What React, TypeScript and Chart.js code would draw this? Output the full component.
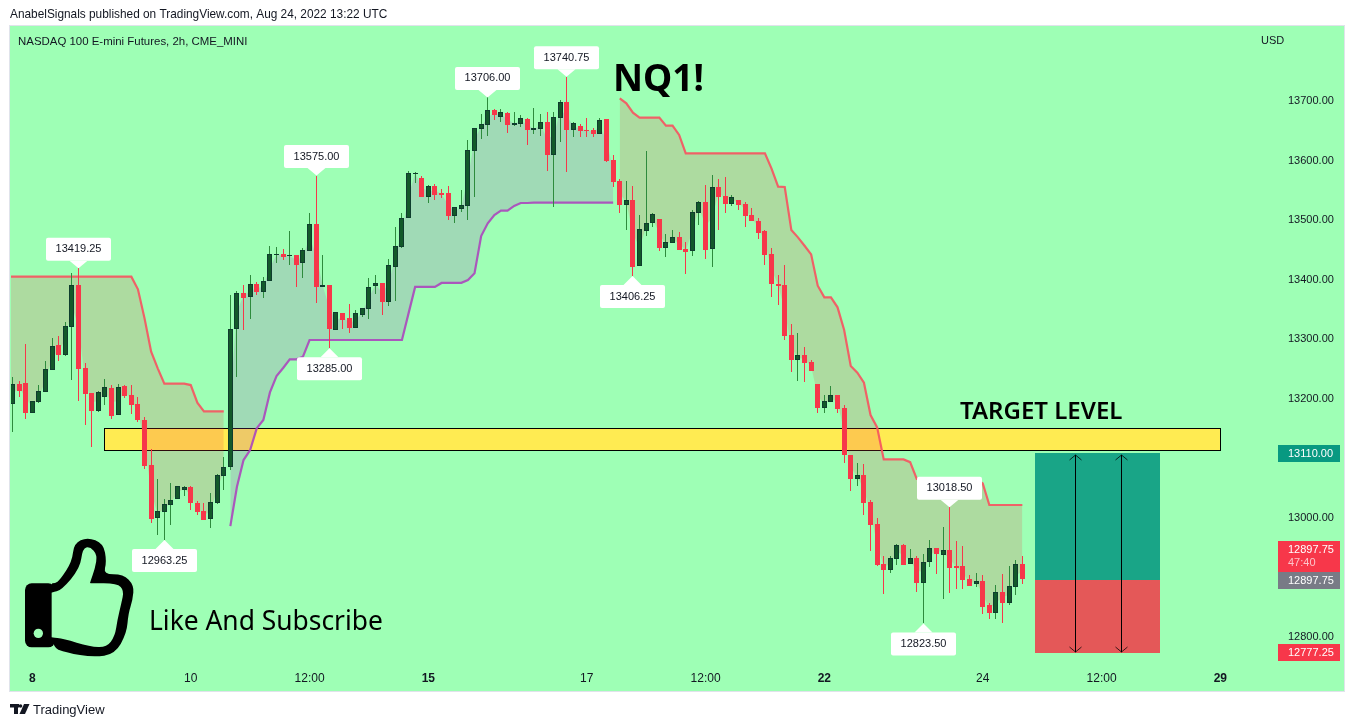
import { useEffect, useRef } from "react";
import { Chart, registerables } from "chart.js";

Chart.register(...registerables);

const opens = [
  13191, 13225, 13226.2, 13175.9, 13195.5, 13212.2, 13249.2, 13290.5, 13274.3, 13321.3,
  13391.2, 13252, 13210, 13180.4, 13203.8, 13218.4, 13172.5, 13221.8, 13206.6, 13191.5,
  13164.7, 13089.2, 13000.8, 13010.9, 13022.6, 13031.6, 13047.8, 13052.3, 13025.4, 13012,
  12998, 13026, 13071.3, 13086.4, 13316.8, 13377.2, 13370.5, 13392.3, 13378.9, 13397.4,
  13442.1, 13443.2, 13439.3, 13441.5, 13427.6, 13448.9, 13493.6, 13388.5, 13390.7, 13316.3,
  13343.7, 13335.9, 13319.7, 13341.5, 13351.6, 13390.2, 13394.1, 13363.3, 13422, 13455.6,
  13503.1, 13578.1, 13570.8, 13539.5, 13557.4, 13545.1, 13545.7, 13507.6, 13519.4, 13524.4,
  13616.7, 13653.6, 13660.3, 13684.9, 13673.8, 13679.4, 13660.3, 13662, 13669.3, 13651.9,
  13653.6, 13664.8, 13610, 13672.1, 13698.4, 13651.9, 13657.5, 13651.4, 13651.4, 13645.2,
  13669.3, 13601, 13565.3, 13526.1, 13533.4, 13423.8, 13482.5, 13494.8, 13501.5, 13454,
  13462.3, 13471.8, 13451.2, 13448.9, 13512.7, 13530.6, 13452.3, 13555.2, 13540.6, 13527.8,
  13533.4, 13527.2, 13508.2, 13498.7, 13482.4, 13442.7, 13392.9, 13391.2, 13307.3, 13265.4,
  13273.8, 13262, 13225.1, 13184.9, 13195.5, 13206.7, 13184.9, 13106, 13065.7, 13072.4,
  13027.2, 12990.3, 12923.1, 12913.6, 12932, 12954.5, 12923.7, 12933.2, 12891.8, 12927,
  12950, 12938.8, 12946.6, 12919.2, 12919.8, 12897.4, 12890.1, 12894.6, 12854.3, 12841.5,
  12875.6, 12858.3, 12885.1, 12923.1,
];
const closes = [
  13224.5, 13213.4, 13177, 13196, 13212.8, 13249.7, 13288.3, 13274.3, 13321.9, 13391.2,
  13250.8, 13208.9, 13180.4, 13211.1, 13219.5, 13172, 13219.5, 13205, 13190.4, 13165.3,
  13088.1, 12999.2, 13011.4, 13023.2, 13029.9, 13054.5, 13051.7, 13025.4, 13010.3, 12997.5,
  13026.5, 13071.9, 13085.3, 13316.8, 13377.2, 13370, 13392.3, 13380, 13397.4, 13442.7,
  13442.7, 13438.8, 13441, 13425.3, 13449.4, 13493, 13388.5, 13390.7, 13316.9, 13345.4,
  13333.1, 13319.7, 13343.7, 13352.1, 13388.5, 13394.1, 13363.3, 13424.3, 13456.2, 13503.1,
  13578.6, 13579.2, 13539.5, 13556.9, 13542.9, 13542.3, 13507.1, 13521.6, 13525, 13617.3,
  13654.2, 13660.9, 13684.4, 13676.6, 13681, 13660.3, 13662.6, 13671, 13651.9, 13654.2,
  13664.3, 13610, 13672.6, 13697.8, 13651.9, 13662.6, 13649.7, 13650.3, 13645.2, 13667.6,
  13599.9, 13564.7, 13526.1, 13533.4, 13421.5, 13484.7, 13494.8, 13509.9, 13454, 13462.9,
  13471.3, 13450.6, 13447.2, 13513.2, 13530, 13450.6, 13555.2, 13539.5, 13527.8, 13538.4,
  13526.1, 13507.6, 13499.3, 13478.6, 13441.6, 13392.9, 13390.1, 13305.7, 13265.4, 13273.2,
  13260.4, 13247, 13184.9, 13196, 13206.1, 13183.2, 13106, 13065.7, 13072.4, 13025.5,
  12989.1, 12922, 12913.6, 12932.6, 12954.5, 12922, 12932.6, 12891.8, 12926, 12949.4,
  12940.5, 12946, 12916.4, 12917, 12896.3, 12886.8, 12894, 12851.6, 12840.9, 12875.6,
  12858.3, 12885.7, 12922.6, 12897.75,
];
const highs = [
  13236.8, 13230.7, 13291.7, 13197.1, 13223.4, 13264.3, 13301.7, 13305.6, 13328.6, 13410.8,
  13419.25, 13259.8, 13210, 13213.4, 13232.9, 13223.4, 13224.5, 13223.4, 13223.4, 13202.7,
  13169.2, 13115.5, 13065.7, 13031.6, 13058.4, 13054.5, 13054, 13054, 13028.8, 13024.9,
  13041.7, 13074.1, 13102, 13374.4, 13381.7, 13391.2, 13408, 13396.8, 13405.2, 13456.7,
  13454.4, 13451, 13481.8, 13441.5, 13452.7, 13511.5, 13575, 13441.6, 13390.7, 13345.4,
  13343.7, 13359.4, 13349.3, 13352.1, 13402.5, 13408, 13394.1, 13434.3, 13489.2, 13511.5,
  13582.6, 13581.4, 13574.2, 13559.1, 13560.8, 13551.8, 13557.4, 13521.6, 13550.7, 13634.6,
  13654.2, 13678.2, 13706, 13686.1, 13686.1, 13682.2, 13681, 13676.6, 13672.1, 13687.7,
  13678.2, 13681, 13682.2, 13701.7, 13740.75, 13665.4, 13661.5, 13671, 13654.2, 13671,
  13669.3, 13609.4, 13568.6, 13565.8, 13557.4, 13508.8, 13616.2, 13511.6, 13501.5, 13476.3,
  13483.6, 13480.2, 13463.5, 13517.2, 13532.3, 13559.1, 13575.9, 13569.2, 13572, 13542.3,
  13533.4, 13531.1, 13520.5, 13503.2, 13483.5, 13452.8, 13408, 13424.8, 13325.8, 13310.1,
  13287.2, 13265.4, 13225.1, 13206.7, 13221.8, 13206.7, 13189.9, 13106, 13092.6, 13090.9,
  13030.5, 13000.3, 12936.6, 12936.6, 12956.1, 12956.7, 12948.3, 12936.6, 12940, 12963.4,
  12950, 12985.2, 13018.5, 12961.7, 12953.3, 12904.7, 12908, 12904.7, 12857.7, 12887.9,
  12906.4, 12919.8, 12929.9, 12936.6,
];
const lows = [
  13145.1, 13203.8, 13167, 13175.9, 13193.8, 13212.2, 13249, 13264.3, 13272, 13231.8,
  13197.1, 13156.3, 13120, 13178.7, 13189.9, 13167, 13172.5, 13202.2, 13174.8, 13161.9,
  13082, 12992.4, 12972.3, 12963.25, 12989.1, 13031.6, 13037.7, 13013.7, 13005.3, 12997.5,
  12983, 13023.8, 13047.2, 13080.8, 13237.4, 13315.7, 13333.6, 13374.4, 13369.4, 13397.4,
  13427.6, 13433.2, 13424.8, 13387.3, 13402.4, 13448.9, 13361.6, 13388.5, 13285, 13316.3,
  13318, 13311.3, 13319.7, 13338.1, 13334.8, 13376.2, 13340.9, 13356.6, 13365, 13453.9,
  13503.1, 13563, 13539.5, 13529.5, 13533.9, 13536.7, 13500.4, 13495.9, 13514.4, 13500.4,
  13539.5, 13636.3, 13641.3, 13668.2, 13664.3, 13646.9, 13658.1, 13655.9, 13626.2, 13644.7,
  13641.3, 13583, 13522.8, 13631.8, 13581.5, 13640.2, 13640.2, 13639.1, 13639.1, 13645.2,
  13598.3, 13556.3, 13512.7, 13483.6, 13406.25, 13423.8, 13473.5, 13488.1, 13448.4, 13438.9,
  13462.3, 13450.6, 13409.8, 13440.5, 13492, 13434.9, 13422.1, 13483.6, 13512.7, 13523.9,
  13517.2, 13489.2, 13499.3, 13468.5, 13424.8, 13371.7, 13357.7, 13299, 13245.3, 13230.2,
  13228.5, 13247, 13176.5, 13176.5, 13195.5, 13176.5, 13092.6, 13045.6, 13054, 13005.3,
  12945.5, 12919.8, 12872.8, 12908.6, 12921.5, 12922, 12923.7, 12876.2, 12823.5, 12918.1,
  12906.4, 12864.4, 12874.5, 12881.2, 12881.2, 12886.8, 12884.6, 12839.2, 12830.9, 12830.9,
  12824.1, 12854.3, 12871.1, 12889.6,
];

// trend bands, first value of each sits on the bar named by its start index
const upperFirstStart = -1;
const upperFirst = [
  13405.2, 13405.2, 13405.2, 13405.2, 13405.2, 13405.2, 13405.2, 13405.2, 13405.2, 13405.2,
  13405.2, 13405.2, 13405.2, 13405.2, 13405.2, 13405.2, 13405.2, 13405.2, 13405.2, 13405.2,
  13384, 13335.3, 13279.4, 13251.4, 13225.7, 13225.7, 13225.7, 13225.7, 13223.4, 13193.8,
  13179.2, 13179.2, 13179.2, 13179.2,
];
const lowerStart = 33;
const lower = [
  12986.8, 13052.8, 13097.6, 13114.4, 13150.7, 13164.7, 13211.1, 13238.5, 13252, 13266.5,
  13266.5, 13271, 13299, 13299, 13299, 13299, 13299, 13299, 13299, 13299,
  13299, 13299, 13299, 13299, 13299, 13299, 13299, 13343.7, 13388, 13388,
  13388, 13388, 13394.7, 13394.7, 13395, 13395, 13399.7, 13410.9, 13473.5, 13494.8,
  13508.8, 13516, 13516, 13523.9, 13528.9, 13528.9, 13529.5, 13529.5, 13529.5, 13529.5,
  13529.5, 13529.5, 13529.5, 13529.5, 13529.5, 13529.5, 13529.5, 13529.5, 13529.5,
];
const upperLastStart = 92;
const upperLast = [
  13704.5, 13696.1, 13680.5, 13672.1, 13672.1, 13672.1, 13672.1, 13658.7, 13658.7, 13643,
  13612.2, 13612.2, 13612.2, 13612.2, 13612.2, 13612.2, 13612.2, 13612.2, 13612.2, 13612.2,
  13612.2, 13612.2, 13612.2, 13586.5, 13556.3, 13555.7, 13483.5, 13471.2, 13457.2, 13442.7,
  13390.1, 13370.5, 13370.5, 13353.8, 13315.7, 13255.3, 13244.1, 13227.4, 13173.1, 13152.4,
  13098.7, 13098.7, 13098.7, 13098.7, 13094, 13066, 13066, 13066, 13066, 13066,
  13066, 13066, 13066, 13066, 13066, 13058.5, 13022.1, 13022.1, 13022.1, 13022.1,
  13022.1, 13022.1,
];

const timeTicks = [3, 27, 45, 63, 87, 105, 123, 147, 165, 183];
const timeLabels = ["8", "10", "12:00", "15", "17", "12:00", "22", "24", "12:00", "29"];
const boldTimeLabels = ["8", "15", "22", "29"];
const priceTicks = [12800, 12900, 13000, 13100, 13200, 13300, 13400, 13500, 13600, 13700];

// callouts: bar index, price, text side
const calloutBars = [10, 23, 46, 48, 72, 84, 94, 138, 142];
const calloutPrices = [13419.25, 12963.25, 13575, 13285, 13706, 13740.75, 13406.25, 12823.5, 13018.5];
const calloutAbove = [true, false, true, false, true, true, false, false, true];

const targetZone = [13151, 13114];
const targetBars = [14, 183];
const positionBars = [154.9, 173.9];
const positionLevels = [13109.5, 12896, 12774.5];
const arrowBars = [161, 168];

const FONT = '"Liberation Sans", Arial, sans-serif';
const BG = "#9effb5";
const RED = "#f7374a";
const TEXT = "#131722";

const xy = (values: number[], start: number) => values.map((y, i) => ({ x: start + i, y }));

const midline = [
  { x: -1, y: 13208 },
  ...opens.map((o, i) => ({ x: i, y: (o + closes[i]) / 2 })),
];

function smooth(ctx: CanvasRenderingContext2D, pts: number[][]) {
  // closed curve through the midpoints of a point list
  const n = pts.length;
  const mid = (a: number[], b: number[]) => [(a[0] + b[0]) / 2, (a[1] + b[1]) / 2];
  const start = mid(pts[n - 1], pts[0]);
  ctx.moveTo(start[0], start[1]);
  pts.forEach((p, i) => {
    const m = mid(p, pts[(i + 1) % n]);
    ctx.quadraticCurveTo(p[0], p[1], m[0], m[1]);
  });
  ctx.closePath();
}

function drawThumb(ctx: CanvasRenderingContext2D) {
  ctx.save();
  ctx.translate(0, 520);
  ctx.scale(1 / 3, 1 / 3);
  ctx.fillStyle = "#000";
  ctx.beginPath();
  ctx.roundRect(75, 190, 90, 192, 20);
  ctx.fill();
  ctx.beginPath();
  smooth(ctx, [
    [150, 190], [165, 190], [180, 180], [216, 125], [222, 70], [262, 52], [310, 70], [320, 125], [310, 163],
    [370, 163], [402, 195], [398, 240], [385, 280], [380, 340], [345, 402], [280, 412],
    [200, 398], [150, 380],
  ]);
  ctx.fill();
  ctx.fillStyle = BG;
  ctx.beginPath();
  smooth(ctx, [
    [155, 218], [155, 218], [185, 210], [240, 145], [248, 85], [270, 80], [292, 105], [285, 145], [270, 188], [270, 190],
    [352, 190], [372, 212], [364, 250], [352, 300], [345, 348], [320, 382], [270, 380],
    [190, 356], [155, 352], [155, 352],
  ]);
  ctx.fill();
  ctx.beginPath();
  ctx.arc(115, 340, 14, 0, Math.PI * 2);
  ctx.fill();
  ctx.restore();
}

function drawLogo(ctx: CanvasRenderingContext2D) {
  ctx.save();
  ctx.fillStyle = "#131722";
  ctx.fillRect(10, 704, 9, 3.5);
  ctx.fillRect(14, 704, 4, 10);
  ctx.beginPath();
  ctx.arc(20.5, 706, 1.8, 0, Math.PI * 2);
  ctx.fill();
  ctx.beginPath();
  ctx.moveTo(24, 704);
  ctx.lineTo(29.5, 704);
  ctx.lineTo(25, 714);
  ctx.lineTo(19.5, 714);
  ctx.closePath();
  ctx.fill();
  ctx.restore();
}

const backdropPlugin = {
  id: "backdrop",
  // pixel-snap the candles the way the original chart does
  afterDatasetsUpdate(chart: any) {
    [0, 1].forEach((index) => {
      chart.getDatasetMeta(index).data.forEach((bar: any) => {
        bar.x = Math.floor(bar.x) + 0.5;
        const top = Math.round(Math.min(bar.y, bar.base));
        const bottom = Math.max(Math.round(Math.max(bar.y, bar.base)), top + 1);
        bar.y = top;
        bar.base = bottom;
        bar.height = bottom - top;
      });
    });
  },
  beforeDraw(chart: any) {
    const { ctx } = chart;
    ctx.save();
    ctx.fillStyle = "#fff";
    ctx.fillRect(0, 0, 1354, 727);
    ctx.fillStyle = BG;
    ctx.fillRect(10, 26, 1334, 665);
    ctx.strokeStyle = "#e0e3eb";
    ctx.lineWidth = 1;
    ctx.strokeRect(9.5, 25.5, 1335, 666);
    ctx.restore();
  },
  beforeDatasetsDraw(chart: any) {
    const { ctx, scales } = chart;
    const { x, y } = scales;
    const left = Math.floor(x.getPixelForValue(targetBars[0])) + 0.5;
    const right = Math.floor(x.getPixelForValue(targetBars[1])) + 0.5;
    const top = Math.round(y.getPixelForValue(targetZone[0])) + 0.5;
    const bottom = Math.round(y.getPixelForValue(targetZone[1])) + 0.5;
    ctx.save();
    ctx.fillStyle = "#ffeb52";
    ctx.fillRect(left, top, right - left, bottom - top);
    ctx.strokeStyle = "#000";
    ctx.lineWidth = 1;
    ctx.strokeRect(left, top, right - left, bottom - top);
    ctx.restore();
  },
};

function drawArrow(ctx: CanvasRenderingContext2D, px: number, top: number, bottom: number) {
  ctx.strokeStyle = "#000";
  ctx.lineWidth = 1;
  ctx.beginPath();
  ctx.moveTo(px, top);
  ctx.lineTo(px, bottom);
  ctx.stroke();
  ctx.strokeStyle = "rgba(0,0,0,0.75)";
  ctx.beginPath();
  ctx.moveTo(px - 6, top + 5);
  ctx.lineTo(px, top);
  ctx.lineTo(px + 6, top + 5);
  ctx.moveTo(px - 6, bottom - 5);
  ctx.lineTo(px, bottom);
  ctx.lineTo(px + 6, bottom - 5);
  ctx.stroke();
}

function drawPriceTag(ctx: CanvasRenderingContext2D, top: number, h: number, color: string, text: string) {
  ctx.fillStyle = color;
  ctx.fillRect(1278, top, 62, h);
  ctx.fillStyle = "#fff";
  ctx.textAlign = "left";
  ctx.textBaseline = "middle";
  ctx.fillText(text, 1288, top + 8.5);
}

const overlayPlugin = {
  id: "overlay",
  afterDatasetsDraw(chart: any) {
    const { ctx, scales } = chart;
    const { x, y } = scales;
    ctx.save();

    // long position box
    const bl = Math.round(x.getPixelForValue(positionBars[0]));
    const br = Math.round(x.getPixelForValue(positionBars[1]));
    const y0 = Math.round(y.getPixelForValue(positionLevels[0]));
    const y1 = Math.round(y.getPixelForValue(positionLevels[1]));
    const y2 = Math.round(y.getPixelForValue(positionLevels[2]));
    ctx.fillStyle = "#19a587";
    ctx.fillRect(bl, y0, br - bl, y1 - y0);
    ctx.fillStyle = "#e45858";
    ctx.fillRect(bl, y1, br - bl, y2 - y1);
    arrowBars.forEach((b) => drawArrow(ctx, Math.floor(x.getPixelForValue(b)) + 0.5, y0 + 2, y2 - 1));

    // high / low callouts
    ctx.font = `11px ${FONT}`;
    ctx.textAlign = "center";
    ctx.textBaseline = "middle";
    calloutBars.forEach((bar, i) => {
      const px = Math.floor(x.getPixelForValue(bar)) + 0.5;
      const py = y.getPixelForValue(calloutPrices[i]);
      const dir = calloutAbove[i] ? -1 : 1;
      const edge = py + dir * (calloutAbove[i] ? 7.5 : 9);
      const top = calloutAbove[i] ? edge - 23 : edge;
      ctx.fillStyle = "#fff";
      ctx.beginPath();
      ctx.roundRect(px - 32.5, top, 65, 23, 2);
      ctx.fill();
      ctx.beginPath();
      ctx.moveTo(px, py);
      ctx.lineTo(px + 9, edge);
      ctx.lineTo(px - 9, edge);
      ctx.closePath();
      ctx.fill();
      ctx.fillStyle = TEXT;
      ctx.fillText(calloutPrices[i].toFixed(2), px, top + 11.5);
    });

    // drawings
    ctx.fillStyle = "#000";
    ctx.textAlign = "left";
    ctx.font = `bold 37px "Noto Sans", sans-serif`;
    ctx.fillText("NQ1!", 613, 80);
    ctx.font = `600 24px "Noto Sans", sans-serif`;
    ctx.fillText("TARGET LEVEL", 960, 412);
    ctx.font = `26.4px "Noto Sans", sans-serif`;
    ctx.fillText("Like And Subscribe", 149, 622);
    drawThumb(ctx);

    // right side tags
    ctx.font = `11px ${FONT}`;
    drawPriceTag(ctx, 445, 17, "#089981", "13110.00");
    drawPriceTag(ctx, 541, 31, RED, "12897.75");
    ctx.fillStyle = "rgba(255,255,255,0.7)";
    ctx.fillText("47:40", 1288, 563);
    drawPriceTag(ctx, 572, 17, "#787b86", "12897.75");
    drawPriceTag(ctx, 644, 17, RED, "12777.25");

    // header and footer
    ctx.fillStyle = TEXT;
    ctx.textBaseline = "middle";
    ctx.font = `11.85px ${FONT}`;
    ctx.fillText("AnabelSignals published on TradingView.com, Aug 24, 2022 13:22 UTC", 10, 15);
    ctx.font = `11.45px ${FONT}`;
    ctx.fillText("NASDAQ 100 E-mini Futures, 2h, CME_MINI", 18, 42);
    ctx.font = `11px ${FONT}`;
    ctx.fillText("USD", 1261, 41);
    ctx.font = `13px ${FONT}`;
    ctx.fillText("TradingView", 33, 710);
    drawLogo(ctx);
    ctx.restore();
  },
};

export default function App() {
  const canvasRef = useRef<HTMLCanvasElement>(null);

  useEffect(() => {
    if (!canvasRef.current) return;
    const bandStyle = (color: string, fillColor: string) => ({
      type: "line" as const,
      borderColor: color,
      borderWidth: 2.2,
      pointRadius: 0,
      tension: 0,
      fill: { target: 2 },
      backgroundColor: fillColor,
      order: 5,
    });
    const chart = new Chart(canvasRef.current, {
      type: "bar",
      data: {
        datasets: [
          {
            label: "Body",
            data: opens.map((o, i) => ({ x: i, y: [o, closes[i]] })) as any,
            backgroundColor: opens.map((o, i) => (closes[i] >= o ? "#13592a" : RED)),
            borderColor: opens.map((o, i) => (closes[i] >= o ? "#0f3d2e" : RED)),
            borderWidth: 1,
            borderSkipped: false,
            inflateAmount: 0,
            barThickness: 5,
            grouped: false,
            order: 1,
          },
          {
            label: "Wick",
            data: lows.map((l, i) => ({ x: i, y: [l, highs[i]] })) as any,
            backgroundColor: opens.map((o, i) => (closes[i] >= o ? "#2e8b3d" : RED)),
            inflateAmount: 0,
            barThickness: 1,
            grouped: false,
            order: 2,
          },
          {
            type: "line",
            label: "Mid",
            data: midline,
            borderColor: "rgba(0,0,0,0)",
            borderWidth: 0,
            pointRadius: 0,
            order: 6,
          },
          { label: "Upper A", data: xy(upperFirst, upperFirstStart), ...bandStyle("rgba(247,82,95,0.9)", "rgba(242,54,69,0.18)") },
          { label: "Lower", data: xy(lower, lowerStart), ...bandStyle("rgba(171,71,188,0.9)", "rgba(171,71,188,0.2)") },
          { label: "Upper B", data: xy(upperLast, upperLastStart), ...bandStyle("rgba(247,82,95,0.9)", "rgba(242,54,69,0.18)") },
        ] as any,
      },
      options: {
        responsive: false,
        animation: false,
        layout: { padding: { left: 11, right: 10, top: 27, bottom: 36 } },
        plugins: { legend: { display: false }, tooltip: { enabled: false } },
        scales: {
          x: {
            type: "linear",
            min: -0.235,
            max: 192.19,
            offset: false,
            grid: { display: false, drawTicks: false },
            border: { display: false },
            afterBuildTicks(scale: any) {
              scale.ticks = timeTicks.map((value) => ({ value }));
            },
            afterFit(scale: any) {
              scale.height = 29;
            },
            ticks: {
              autoSkip: false,
              maxRotation: 0,
              padding: 9,
              color: TEXT,
              font: (ctx: any) => {
                const label = timeLabels[timeTicks.indexOf(ctx.tick?.value)];
                return { family: FONT, size: 12, weight: boldTimeLabels.includes(label) ? "bold" : "normal" };
              },
              callback: (value: any) => timeLabels[timeTicks.indexOf(value)],
            },
          },
          y: {
            position: "right",
            min: 12758.7,
            max: 13824.2,
            grid: { display: false, drawTicks: false },
            border: { display: false },
            afterBuildTicks(scale: any) {
              scale.ticks = priceTicks.map((value) => ({ value }));
            },
            afterFit(scale: any) {
              scale.width = 63;
            },
            ticks: {
              padding: 7,
              color: TEXT,
              font: { family: FONT, size: 11 },
              callback: (value: any) => Number(value).toFixed(2),
            },
          },
        },
      },
      plugins: [backdropPlugin, overlayPlugin],
    });
    return () => chart.destroy();
  }, []);

  return (
    <div style={{ position: "fixed", left: 0, top: 0, width: 1354, height: 727 }}>
      <canvas ref={canvasRef} width={1354} height={727} style={{ display: "block" }} />
    </div>
  );
}
